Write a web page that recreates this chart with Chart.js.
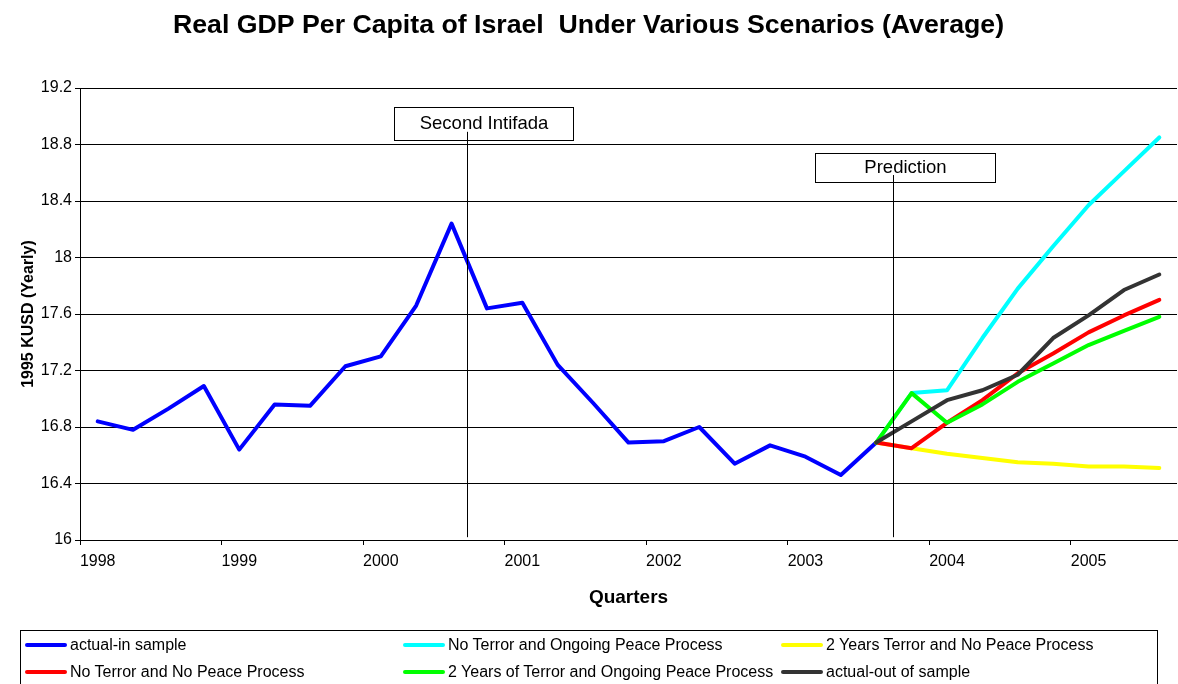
<!DOCTYPE html>
<html><head><meta charset="utf-8">
<script src="https://cdn.jsdelivr.net/npm/chart.js@4.4.1/dist/chart.umd.min.js"></script>
<style>
html,body{margin:0;padding:0;background:#fff;}
#wrap{position:relative;width:1178px;height:684px;overflow:hidden;background:#fff;}
#c{position:absolute;left:0;top:0;}
#legendBox{position:absolute;left:20px;top:630px;width:1138px;height:70px;border:1px solid #000;box-sizing:border-box;}
.item{position:absolute;height:20px;display:flex;align-items:center;white-space:nowrap;font-family:"Liberation Sans",Arial,sans-serif;font-size:16px;color:#000;}
.sw{position:absolute;height:4px;width:42px;border-radius:2px;}
</style></head><body>
<div id="wrap"><canvas id="c" width="1178" height="684"></canvas><div id="legendBox"></div></div>
<script>
const FONT = '"Liberation Sans", Arial, sans-serif';

const quarters = ['1998Q1','1998Q2','1998Q3','1998Q4','1999Q1','1999Q2','1999Q3','1999Q4',
  '2000Q1','2000Q2','2000Q3','2000Q4','2001Q1','2001Q2','2001Q3','2001Q4',
  '2002Q1','2002Q2','2002Q3','2002Q4','2003Q1','2003Q2','2003Q3','2003Q4',
  '2004Q1','2004Q2','2004Q3','2004Q4','2005Q1','2005Q2','2005Q3'];
const yearTicks = ['1998','1999','2000','2001','2002','2003','2004','2005'];

const actualIn = [16.84,16.78,16.93,17.09,16.64,16.96,16.95,17.23,17.30,17.66,18.24,17.64,17.68,17.24,16.97,16.69,
  16.70,16.80,16.54,16.67,16.59,16.46,16.69,null,null,null,null,null,null,null,null];
const noTerrorPeace = [null,null,null,null,null,null,null,null,null,null,null,null,null,null,null,null,
  null,null,null,null,null,null,16.69,17.04,17.06,17.43,17.78,18.08,18.37,18.61,18.85];
const twoYrsTerrorNoPeace = [null,null,null,null,null,null,null,null,null,null,null,null,null,null,null,null,
  null,null,null,null,null,null,16.69,16.65,16.61,16.58,16.55,16.54,16.52,16.52,16.51];
const noTerrorNoPeace = [null,null,null,null,null,null,null,null,null,null,null,null,null,null,null,null,
  null,null,null,null,null,null,16.69,16.65,16.83,16.99,17.18,17.32,17.47,17.59,17.70];
const twoYrsTerrorPeace = [null,null,null,null,null,null,null,null,null,null,null,null,null,null,null,null,
  null,null,null,null,null,null,16.69,17.04,16.83,16.96,17.12,17.25,17.38,17.48,17.58];
const actualOut = [null,null,null,null,null,null,null,null,null,null,null,null,null,null,null,null,
  null,null,null,null,null,null,16.69,16.84,16.99,17.06,17.17,17.43,17.59,17.77,17.88];

const seriesNames = ['actual-in sample','No Terror and Ongoing Peace Process','2 Years Terror and No Peace Process',
  'No Terror and No Peace Process','2 Years of Terror and Ongoing Peace Process','actual-out of sample'];
const seriesData = [actualIn, noTerrorPeace, twoYrsTerrorNoPeace, noTerrorNoPeace, twoYrsTerrorPeace, actualOut];
const seriesColors = ['#0000FF','#00FFFF','#FFFF00','#FF0000','#00FF00','#333333'];

// annotation callouts (in axis units)
const callouts = [
  {text:'Second Intifada', at:10.45, x0:8.38, x1:13.44, yTop:19.065, yBot:18.83, lineTop:18.89, lineBot:16.02},
  {text:'Prediction', at:22.48, x0:20.28, x1:25.37, yTop:18.74, yBot:18.532, lineTop:18.584, lineBot:16.02}
];

const calloutPlugin = {
  id:'callouts',
  afterDraw(chart){
    const ctx = chart.ctx, xs = chart.scales.x, ys = chart.scales.y;
    ctx.save();
    callouts.forEach(c => {
      const l = Math.round(xs.getPixelForValue(c.x0))+0.5, r = Math.round(xs.getPixelForValue(c.x1))+0.5;
      const t = Math.round(ys.getPixelForValue(c.yTop))+0.5, b = Math.round(ys.getPixelForValue(c.yBot))+0.5;
      ctx.fillStyle = '#fff';
      ctx.fillRect(l, t, r-l, b-t);
      ctx.strokeStyle = '#000'; ctx.lineWidth = 1;
      ctx.strokeRect(l, t, r-l, b-t);
      ctx.fillStyle = '#000';
      ctx.font = '18.5px ' + FONT;
      ctx.textAlign = 'center'; ctx.textBaseline = 'middle';
      ctx.fillText(c.text, (l+r)/2, (t+b)/2);
      const lx = Math.round(xs.getPixelForValue(c.at))+0.5;
      ctx.beginPath();
      ctx.moveTo(lx, ys.getPixelForValue(c.lineTop));
      ctx.lineTo(lx, ys.getPixelForValue(c.lineBot));
      ctx.stroke();
    });
    ctx.restore();
  }
};

const datasets = seriesData.map((d,i) => ({
  label: seriesNames[i], data: d, borderColor: seriesColors[i], backgroundColor: seriesColors[i],
  borderWidth: 4, pointRadius: 0, pointHoverRadius: 0, tension: 0, fill: false,
  borderCapStyle: 'round', borderJoinStyle: 'round', spanGaps: false,
  order: seriesData.length - 1 - i
}));

new Chart(document.getElementById('c'), {
  type: 'line',
  data: { labels: quarters, datasets },
  options: {
    responsive: false, animation: false, events: [],
    layout: { padding: { left: 0, right: 1, top: 0, bottom: 74 } },
    plugins: {
      legend: { display: false },
      tooltip: { enabled: false },
      title: { display: true, text: 'Real GDP Per Capita of Israel  Under Various Scenarios (Average)',
        color: '#000', font: { family: FONT, size: 26.7, weight: 'bold' }, padding: { top: 10, bottom: 46 } }
    },
    scales: {
      x: {
        type: 'category', offset: true,
        grid: { offset: true, drawOnChartArea: false, drawTicks: true, tickLength: 5,
          color: c => (c.index % 4 === 0 ? '#000' : 'rgba(0,0,0,0)') },
        border: { color: '#000', width: 1 },
        ticks: { autoSkip: false, maxRotation: 0, minRotation: 0, padding: 7, color: '#000',
          font: { family: FONT, size: 16 },
          callback: (v, i) => (i % 4 === 0 ? yearTicks[i / 4] : '') },
        title: { display: true, text: 'Quarters', color: '#000',
          font: { family: FONT, size: 19, weight: 'bold' }, padding: { top: 0, bottom: 1 } },
        afterFit: s => { s.height = 70; }
      },
      y: {
        min: 16, max: 19.2,
        grid: { color: '#000', lineWidth: 1, drawTicks: true, tickLength: 5 },
        border: { color: '#000', width: 1 },
        ticks: { stepSize: 0.4, padding: 3, color: '#000', font: { family: FONT, size: 16 },
          callback: v => String(Math.round(v * 10) / 10) },
        title: { display: true, text: '1995 KUSD (Yearly)', color: '#000',
          font: { family: FONT, size: 16, weight: 'bold' }, padding: { top: 19, bottom: 0 } },
        afterFit: s => { s.width = 80; }
      }
    }
  },
  plugins: [calloutPlugin]
});

// legend (3 columns x 2 rows, dataset order)
const wrap = document.getElementById('wrap');
const colSwatchX = [25, 403, 781], colTextX = [70, 448, 826], rowCY = [644.5, 672];
seriesNames.forEach((name, i) => {
  const col = i % 3, row = Math.floor(i / 3);
  const sw = document.createElement('div');
  sw.className = 'sw'; sw.style.background = seriesColors[i];
  sw.style.left = colSwatchX[col] + 'px'; sw.style.top = (rowCY[row] - 2) + 'px';
  wrap.appendChild(sw);
  const it = document.createElement('div');
  it.className = 'item'; it.textContent = name;
  it.style.left = colTextX[col] + 'px'; it.style.top = (rowCY[row] - 10) + 'px';
  wrap.appendChild(it);
});
</script>
</body></html>
